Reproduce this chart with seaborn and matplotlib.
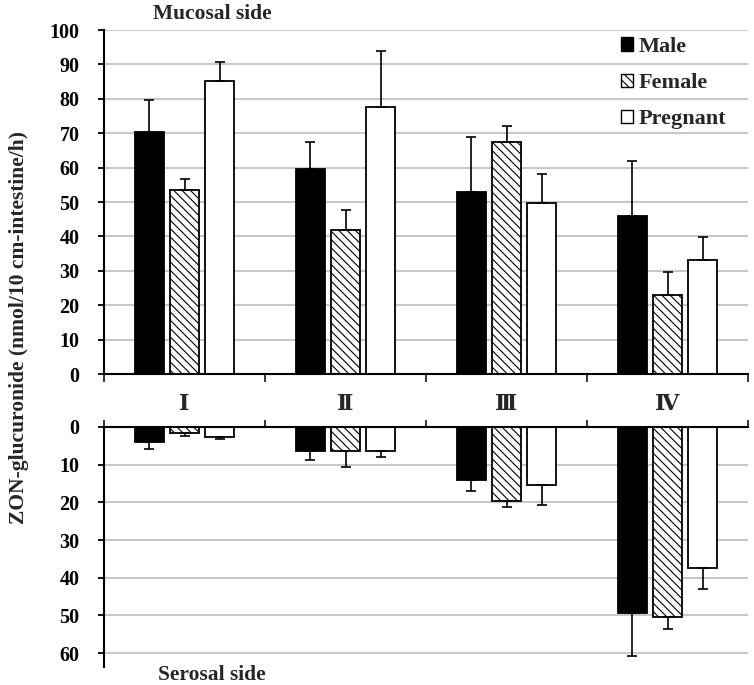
import numpy as np
import pandas as pd
import matplotlib
matplotlib.use("Agg")
import matplotlib.pyplot as plt
import seaborn as sns
from matplotlib.patches import Patch

# ### Data
segments = ["\u2160", "\u2161", "\u2162", "\u2163"]
groups = ["Male", "Female", "Pregnant"]

mucosal_male = [70.3, 59.5, 53.0, 46.0]
mucosal_female = [53.6, 41.8, 67.5, 22.9]
mucosal_pregnant = [85.3, 77.7, 49.8, 33.1]
mucosal_male_err = [9.4, 8.0, 16.0, 16.0]
mucosal_female_err = [3.1, 5.8, 4.7, 6.8]
mucosal_pregnant_err = [5.3, 16.2, 8.4, 6.8]

serosal_male = [4.0, 6.5, 14.0, 49.4]
serosal_female = [1.6, 6.5, 19.7, 50.3]
serosal_pregnant = [2.6, 6.5, 15.3, 37.4]
serosal_male_err = [1.9, 2.3, 3.0, 11.5]
serosal_female_err = [0.7, 4.2, 1.6, 3.3]
serosal_pregnant_err = [0.6, 1.5, 5.4, 5.7]


def long_table(male, female, pregnant):
    return pd.DataFrame({
        "segment": segments * 3,
        "group": ["Male"] * 4 + ["Female"] * 4 + ["Pregnant"] * 4,
        "value": male + female + pregnant,
    })


sns.set_style("white")
plt.rcParams["font.family"] = ["Liberation Serif", "DejaVu Serif"]
plt.rcParams["font.weight"] = "bold"
plt.rcParams["hatch.linewidth"] = 0.8
plt.rcParams["hatch.color"] = "black"

palette = {"Male": "black", "Female": "white", "Pregnant": "white"}
W, H = 754, 685
fig = plt.figure(figsize=(W / 100, H / 100), dpi=100)
ax_top = fig.add_axes([104 / W, (H - 374) / H, 644 / W, 344 / H])
ax_bot = fig.add_axes([104 / W, (H - 667) / H, 644 / W, 240 / H])

panels = [
    (ax_top, long_table(mucosal_male, mucosal_female, mucosal_pregnant),
     [mucosal_male_err, mucosal_female_err, mucosal_pregnant_err]),
    (ax_bot, long_table(serosal_male, serosal_female, serosal_pregnant),
     [serosal_male_err, serosal_female_err, serosal_pregnant_err]),
]

for ax, df, errs in panels:
    sns.barplot(data=df, x="segment", y="value", hue="group",
                hue_order=groups, order=segments, palette=palette,
                width=0.66, gap=0.18, edgecolor="black", linewidth=1.3,
                errorbar=None, legend=False, ax=ax)
    for container, err in zip(ax.containers, errs):
        xs, ys = [], []
        for bar in container:
            xs.append(bar.get_x() + bar.get_width() / 2)
            ys.append(bar.get_height())
        ax.errorbar(xs, ys, yerr=[np.zeros(len(err)), err], fmt="none",
                    ecolor="black", elinewidth=1.2, capsize=3.5, capthick=1.2,
                    zorder=1)
    # hatch the female bars
    for bar in ax.containers[1]:
        bar.set_hatch("\\\\\\\\")
    ax.set_axisbelow(True)
    ax.yaxis.grid(True, color="#c8c8c8", linewidth=1.5)
    ax.set_xlim(-0.5, 3.5)
    ax.set_xlabel("")
    ax.set_ylabel("")
    for s in ["top", "right", "bottom"]:
        ax.spines[s].set_visible(False)
    ax.spines["left"].set_linewidth(1.5)
    ax.spines["left"].set_color("black")
    ax.tick_params(axis="y", labelsize=14.5, length=4.5, width=1.3,
                   pad=13, left=True, colors="black")

# upper panel: mucosal side
ax_top.set_ylim(0, 100)
ax_top.set_yticks(range(0, 101, 10))
ax_top.spines["bottom"].set_visible(True)
ax_top.spines["bottom"].set_linewidth(1.5)
ax_top.spines["bottom"].set_color("black")
ax_top.set_xticks([-0.5, 0.5, 1.5, 2.5, 3.5])
ax_top.set_xticklabels([])
ax_top.tick_params(axis="x", bottom=True, length=6, width=1.3, direction="out")

# lower panel: serosal side, drawn downward
ax_bot.set_ylim(63.7, 0)
ax_bot.set_yticks(range(0, 61, 10))
ax_bot.spines["top"].set_visible(True)
ax_bot.spines["top"].set_linewidth(1.5)
ax_bot.spines["top"].set_color("black")
ax_bot.xaxis.tick_top()
ax_bot.set_xticks(range(4))
ax_bot.set_xticklabels(segments, fontweight="bold")
ax_bot.set_xticks([-0.5, 0.5, 1.5, 2.5, 3.5], minor=True)
ax_bot.tick_params(axis="x", which="major", top=True, length=0, pad=9,
                   labelsize=16)
ax_bot.tick_params(axis="x", which="minor", top=True, bottom=False, length=5,
                   width=1.3, direction="out")

# legend
handles = [Patch(facecolor=palette[g], edgecolor="black", linewidth=1.0,
                 hatch="\\\\\\\\" if g == "Female" else None, label=g)
           for g in groups]
ax_top.legend(handles=handles, loc="upper left", bbox_to_anchor=(0.803, 0.98),
              frameon=False, borderpad=0, borderaxespad=0,
              handlelength=0.55, handleheight=0.55,
              handletextpad=0.25, labelspacing=0.73,
              prop={"size": 16, "weight": "bold"})

fig.text(212 / W, 1 - 14 / H, "Mucosal side", ha="center", va="center",
         fontsize=15.5, fontweight="bold")
fig.text(212 / W, 1 - 675 / H, "Serosal side", ha="center", va="center",
         fontsize=15.5, fontweight="bold")
fig.text(19 / W, 1 - 328 / H, "ZON-glucuronide (nmol/10 cm-intestine/h)",
         rotation=90, ha="center", va="center", fontsize=15.5,
         fontweight="bold")

fig.savefig("out.png", dpi=100)
